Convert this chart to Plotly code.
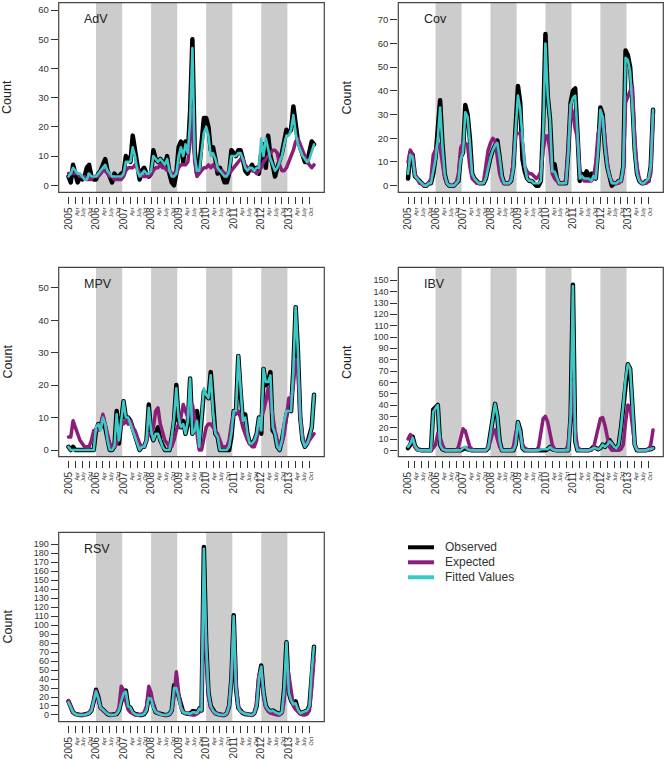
import plotly.graph_objects as go

W, H = 667, 760

# ---------------- data (monthly, Jan 2005 - Dec 2013) ----------------
months = [2005 + m / 12 for m in range(108)]

adv_observed = [3,1,7,4,1,3,2,3,6,7,3,2,
                2,4,5,7,9,5,3,1,4,3,3,4,
                4,10,9,8,17,12,5,2,5,6,4,3,
                4,12,9,8,9,8,7,10,4,1,0,4,
                13,15,8,15,11,25,50,12,4,6,15,23,
                23,20,12,13,9,4,6,3,1,1,4,12,
                11,10,12,12,9,5,4,6,7,5,6,4,
                11,14,6,17,10,7,3,6,8,11,15,19,
                18,19,27,20,15,13,11,8,8,11,15,14]
adv_expected = [4,4,4,4,4,3,3,3,2,2,2,3,
                3,3,4,5,5,4,3,3,2,2,2,2,
                3,5,6,6,6,7,6,4,3,3,3,3,
                4,5,6,6,7,6,6,5,5,4,4,4,
                6,7,7,7,8,15,26,8,3,4,5,6,
                6,7,6,7,6,5,5,5,4,4,4,5,
                6,7,8,9,9,7,6,6,5,5,4,5,
                6,8,9,10,11,12,12,11,7,5,5,6,
                8,10,12,15,16,14,12,10,8,7,6,7]
adv_fitted = [3,4,6,5,4,4,3,2,2,4,3,3,
              3,4,5,6,7,5,4,3,3,3,3,3,
              4,8,8,8,13,10,5,3,4,5,4,4,
              5,10,9,8,9,8,7,9,5,3,3,4,
              10,13,10,14,11,22,47,10,5,5,12,18,
              20,17,10,11,9,6,5,4,3,3,5,10,
              10,10,11,11,9,6,5,6,6,5,6,6,
              16,10,16,12,9,7,5,6,8,10,14,17,
              17,19,24,18,14,12,10,9,8,9,12,14]

cov_observed = [3,14,13,4,3,2,1,0,0,1,1,5,
                12,22,36,18,5,1,0,0,0,1,2,12,
                14,34,30,20,5,3,2,1,1,1,3,8,
                12,15,17,19,12,4,1,1,1,2,8,25,
                42,35,11,6,3,2,2,1,0,0,2,25,
                64,38,28,8,9,3,1,1,1,1,15,35,
                40,41,22,2,5,4,6,3,5,5,3,15,
                33,30,16,8,4,0,1,1,2,2,8,57,
                55,50,35,15,5,2,1,1,2,2,8,32]
cov_expected = [10,15,13,5,3,1,1,0,0,1,3,13,
                15,18,16,8,3,1,0,0,0,1,5,16,
                18,18,17,8,3,2,1,1,1,2,8,15,
                18,20,19,12,5,2,1,1,1,3,10,22,
                22,22,18,8,6,5,5,4,3,4,6,15,
                21,21,15,5,3,2,1,1,1,3,15,34,
                30,24,20,6,3,2,2,2,2,3,10,22,
                25,29,20,10,4,2,1,1,1,2,6,35,
                38,40,42,20,8,3,1,1,1,2,5,30]
cov_fitted = [5,13,12,4,3,2,1,0,0,1,1,6,
              11,20,33,17,5,1,0,0,0,1,2,11,
              14,31,29,18,5,3,2,1,1,1,3,8,
              12,15,17,18,12,4,1,1,1,2,7,24,
              38,32,18,8,3,2,2,1,1,1,2,22,
              60,38,28,6,6,3,1,1,1,1,14,34,
              37,38,22,3,4,3,3,3,2,4,3,14,
              32,29,16,8,4,1,1,1,2,2,8,54,
              53,48,33,14,5,2,1,1,2,3,8,32]

mpv_observed = [1,0,1,0,0,0,0,0,0,0,0,0,
                6,8,7,10,7,3,0,0,1,12,2,9,
                15,10,10,9,7,5,3,0,1,1,3,14,
                5,3,5,7,3,1,0,0,0,4,9,20,
                9,7,9,5,8,22,5,7,12,1,8,18,
                17,16,24,12,5,4,0,0,0,0,0,4,
                12,12,29,18,9,11,5,2,2,3,5,10,
                5,25,20,21,24,6,5,1,0,3,8,11,
                13,12,25,44,30,10,3,1,2,4,7,17]
mpv_expected = [4,4,9,7,5,3,2,1,1,1,3,6,
                6,6,7,11,8,5,2,1,1,2,4,8,
                8,9,8,9,7,6,4,2,1,1,3,5,
                5,7,12,13,8,5,3,2,1,1,3,6,
                8,10,14,12,10,12,14,10,5,0,0,4,
                7,8,8,7,6,5,3,1,1,1,3,8,
                11,11,12,10,7,5,3,2,1,1,3,8,
                10,12,15,19,15,10,6,3,1,2,5,10,
                16,15,20,28,25,10,4,2,2,3,4,5]
mpv_fitted = [1,0,0,0,0,0,0,0,0,0,0,0,
              7,8,6,10,8,3,0,0,1,11,3,9,
              15,10,10,8,6,4,2,0,1,1,3,13,
              6,3,5,5,3,1,0,0,0,4,10,19,
              10,7,8,5,9,22,5,6,9,1,9,19,
              17,16,23,12,5,4,0,0,0,0,1,5,
              12,12,29,18,9,10,5,2,2,3,5,10,
              6,25,21,21,23,7,5,1,0,3,9,12,
              12,12,25,44,30,10,3,1,2,4,7,17]

ibv_observed = [2,5,12,4,1,0,0,0,0,0,0,36,
                38,40,5,1,0,0,0,0,0,0,0,0,
                1,2,1,0,0,0,0,0,0,0,0,2,
                15,32,41,30,8,0,0,0,0,0,0,5,
                25,18,2,0,0,0,0,0,0,0,0,0,
                0,1,3,1,0,0,0,0,0,0,0,30,
                146,8,0,0,0,0,0,0,1,3,2,1,
                2,5,3,6,9,6,3,2,5,20,40,62,
                76,72,40,5,0,0,0,0,0,1,1,2]
ibv_expected = [10,14,10,3,1,0,0,0,0,0,0,2,
                5,15,12,5,1,0,0,0,0,0,3,12,
                19,17,10,3,1,0,0,0,0,0,0,3,
                8,16,18,10,3,0,0,0,0,0,3,15,
                22,15,5,2,1,0,0,0,0,3,15,28,
                30,25,15,5,1,0,0,0,0,1,5,30,
                60,18,3,1,0,0,0,0,0,2,10,20,
                28,29,22,12,3,0,0,0,0,1,5,25,
                40,38,20,5,1,0,0,0,0,0,5,18]
ibv_fitted = [3,6,11,4,1,0,0,0,0,0,0,34,
              37,40,5,1,0,0,0,0,0,0,0,0,
              2,3,1,0,0,0,0,0,0,0,0,2,
              15,32,41,30,8,0,0,0,0,0,0,5,
              25,17,2,0,0,0,0,0,0,0,1,1,
              1,1,3,1,0,0,0,0,0,0,0,30,
              145,8,0,0,0,0,0,0,1,2,2,1,
              2,5,3,5,8,6,3,2,5,20,40,63,
              76,72,40,5,0,0,0,0,0,1,1,2]

rsv_observed = [15,8,3,1,0,0,0,0,1,2,5,15,
                28,20,8,6,3,1,0,0,0,1,5,15,
                25,27,10,8,3,1,0,0,0,1,5,20,
                18,8,3,2,1,0,0,0,1,5,33,30,
                20,8,3,2,2,1,4,4,2,7,5,187,
                80,25,10,5,2,1,0,0,0,2,10,40,
                111,30,8,4,2,1,1,0,0,2,10,40,
                55,25,10,6,4,5,3,2,1,3,30,81,
                25,16,12,15,6,2,3,4,5,10,50,76]
rsv_expected = [16,8,3,1,0,0,0,0,1,2,5,15,
                27,18,8,5,3,1,0,0,0,2,8,32,
                28,15,6,3,1,0,0,0,1,3,10,32,
                25,10,4,2,1,0,0,0,1,5,20,48,
                25,8,3,2,1,0,0,0,1,3,10,150,
                70,20,8,4,2,1,0,0,0,2,10,40,
                100,35,10,4,2,1,0,0,0,2,12,45,
                50,20,8,4,2,1,0,0,0,2,15,60,
                45,25,10,6,3,1,0,0,1,5,30,62]
rsv_fitted = [14,8,3,1,0,0,0,0,1,2,5,14,
              26,19,8,6,3,1,0,0,0,1,5,15,
              24,26,10,8,3,1,0,0,0,1,5,19,
              18,8,3,2,1,0,0,0,1,5,30,30,
              20,8,3,2,2,1,3,3,2,7,5,185,
              78,25,10,5,2,1,0,0,0,2,10,40,
              110,30,8,4,2,1,1,0,0,2,10,40,
              54,25,10,6,4,5,3,2,1,3,30,81,
              25,16,12,13,6,2,3,4,5,10,50,76]

panel_names = ["AdV", "Cov", "MPV", "IBV", "RSV"]
series_names = ["Observed", "Expected", "Fitted Values"]
tick_years = list(range(2005, 2014))
month_labels = ["Apr", "July", "Oct"]
shaded_years = [2006, 2008, 2010, 2012]

data = {
    "AdV": (adv_observed, adv_expected, adv_fitted),
    "Cov": (cov_observed, cov_expected, cov_fitted),
    "MPV": (mpv_observed, mpv_expected, mpv_fitted),
    "IBV": (ibv_observed, ibv_expected, ibv_fitted),
    "RSV": (rsv_observed, rsv_expected, rsv_fitted),
}

# ---------------- layout / styling ----------------
colors = ["#000000", "#8B1E78", "#3CC9C6"]
widths = [4.5, 3.5, 2.6]
FONT = "Liberation Sans, Arial, sans-serif"

# panel boxes in pixels: (left, right, top, bottom)
boxes = {
    "AdV": (58.7, 324.3, 2.7, 192.3),
    "Cov": (398.3, 663.3, 2.7, 192.3),
    "MPV": (58.7, 324.3, 267.3, 456.7),
    "IBV": (398.3, 663.3, 267.3, 456.7),
    "RSV": (58.7, 324.3, 532.3, 721.7),
}
yranges = {
    "AdV": ([-2.4, 62.5], 60),
    "Cov": ([-2.8, 77.2], 70),
    "MPV": ([-2.06, 56.3], 50),
    "IBV": ([-5.6, 161.5], 150),
    "RSV": ([-7.5, 203.4], 190),
}
xrange_ = [2004.645, 2014.29]

# x ticks: year at Jan, small month names at Apr/Jul/Oct
tickvals, ticktext = [], []
for y in tick_years:
    tickvals.append(y)
    ticktext.append(str(y))
    for q, lab in enumerate(month_labels, start=1):
        tickvals.append(y + q * 0.25)
        ticktext.append('<span style="font-size:5.5px">%s</span>' % lab)

fig = go.Figure()
layout = dict(
    width=W, height=H,
    margin=dict(l=0, r=0, t=0, b=0),
    paper_bgcolor="white", plot_bgcolor="white",
    font=dict(family=FONT, color="#333333"),
    showlegend=False,
)
shapes, annotations = [], []

for i, name in enumerate(panel_names, start=1):
    L, R, T, B = boxes[name]
    xa = "x" if i == 1 else "x%d" % i
    ya = "y" if i == 1 else "y%d" % i
    yr, ymax = yranges[name]
    layout["xaxis" if i == 1 else "xaxis%d" % i] = dict(
        domain=[L / W, R / W], range=xrange_, anchor="free",
        position=1 - (B + 3.7) / H,
        showline=False, showgrid=False, zeroline=False,
        ticks="outside", ticklen=6.5, tickwidth=1, tickcolor="#333333",
        tickvals=tickvals, ticktext=ticktext, tickangle=-90,
        tickfont=dict(size=10, family=FONT, color="#333333"),
    )
    layout["yaxis" if i == 1 else "yaxis%d" % i] = dict(
        domain=[1 - B / H, 1 - T / H], range=yr, anchor=xa,
        showline=False, showgrid=False, zeroline=False,
        ticks="outside", ticklen=7, tickwidth=1, tickcolor="#333333",
        tickvals=list(range(0, ymax + 1, 10)),
        tickfont=dict(size=9.5 if ymax <= 70 else 9, family=FONT, color="#333333"),
    )
    for yy in shaded_years:
        shapes.append(dict(type="rect", xref=xa, yref=ya + " domain",
                           x0=yy, x1=yy + 0.95, y0=0, y1=1,
                           fillcolor="#CCCCCC", line=dict(width=0), layer="below"))
    shapes.append(dict(type="rect", xref=xa + " domain", yref=ya + " domain",
                       x0=0, x1=1, y0=0, y1=1,
                       line=dict(color="#444444", width=1.2), layer="above"))
    for s, (vals, sname) in enumerate(zip(data[name], series_names)):
        fig.add_trace(go.Scatter(
            x=months, y=vals, mode="lines", name=sname,
            line=dict(color=colors[s], width=widths[s]),
            xaxis=xa, yaxis=ya, legendgroup=sname, showlegend=False,
            hoverinfo="skip",
        ))
    # panel label
    annotations.append(dict(text=name, xref=xa + " domain", yref=ya + " domain",
                            x=(82 - L) / (R - L) if L < 300 else (421.7 - L) / (R - L),
                            y=1 - (16.5) / (B - T), xanchor="left", yanchor="middle",
                            showarrow=False, font=dict(size=12.5, family=FONT, color="#222222")))
    # y title
    cx = 7.5 if L < 300 else 347
    annotations.append(dict(text="Count", xref="paper", yref="paper",
                            x=cx / W, y=1 - ((T + B) / 2) / H, textangle=-90,
                            xanchor="center", yanchor="middle", showarrow=False,
                            font=dict(size=12.5, family=FONT, color="#222222")))

# legend (key drawn in the empty sixth cell)
legend_rows = [547.3, 562.3, 577.3]
for s, sname in enumerate(series_names):
    yrow = 1 - legend_rows[s] / H
    shapes.append(dict(type="line", xref="paper", yref="paper",
                       x0=408 / W, x1=434 / W, y0=yrow, y1=yrow,
                       line=dict(color=colors[s], width=4)))
    annotations.append(dict(text=sname, xref="paper", yref="paper",
                            x=443 / W, y=yrow, xanchor="left", yanchor="middle",
                            showarrow=False, font=dict(size=12, family=FONT, color="#333333")))

layout["shapes"] = shapes
layout["annotations"] = annotations
fig.update_layout(**layout)
fig.write_html(
    "out.html",
    config={"displayModeBar": False, "staticPlot": True},
    post_script=(
        "document.body.style.margin='0';document.body.style.overflow='hidden';"
        "document.querySelectorAll('.js-line').forEach(function(p){"
        "p.style.strokeLinejoin='round';p.style.strokeLinecap='round';});"
    ),
)
